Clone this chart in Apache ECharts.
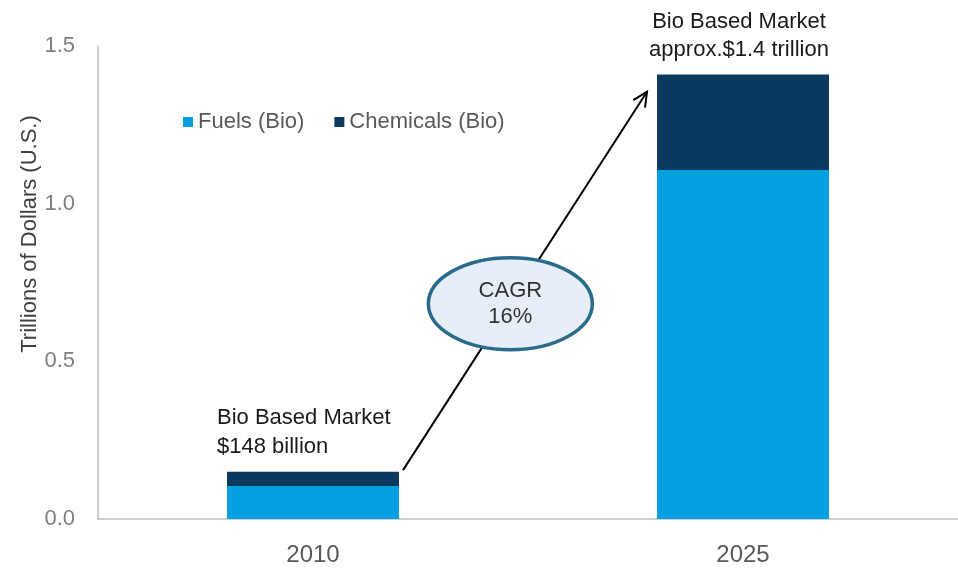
<!DOCTYPE html>
<html>
<head>
<meta charset="utf-8">
<script src="https://cdn.jsdelivr.net/npm/echarts@6/dist/echarts.min.js"></script>
<style>html,body{margin:0;padding:0;background:#fff;}#c{width:958px;height:569px;}</style>
</head>
<body>
<div id="c"></div>
<script>
const categories = ['2010', '2025'];
const fuels = [0.105, 1.107];
const chemicals = [0.045, 0.303];
const yTicks = [0, 0.5, 1.0, 1.5];
const yAxisTitle = 'Trillions of Dollars (U.S.)';
const annotations = ['Bio Based Market\n$148 billion', 'Bio Based Market\napprox.$1.4 trillion'];
const cagrText = 'CAGR\n16%';
const arrowFrom = [0, 0.155];
const arrowTo = [1, 1.355];

const FONT = '"Liberation Sans", Arial, sans-serif';
const chart = echarts.init(document.getElementById('c'));
const option = {
  animation: false,
  backgroundColor: '#ffffff',
  grid: { left: 98, top: 46, bottom: 50, width: 864 },
  legend: {
    left: 178, top: 106, itemWidth: 10, itemHeight: 10, itemGap: 30,
    icon: 'rect',
    textStyle: { fontFamily: FONT, fontSize: 22, color: '#595959' },
    data: ['Fuels (Bio)', 'Chemicals (Bio)']
  },
  xAxis: {
    type: 'category', data: categories,
    axisLine: { lineStyle: { color: '#BFBFBF', width: 1.5 } },
    axisTick: { show: false },
    axisLabel: { fontFamily: FONT, fontSize: 24, color: '#595959', margin: 24 }
  },
  yAxis: {
    type: 'value', min: 0, max: 1.5, interval: 0.5,
    axisLine: { show: true, lineStyle: { color: '#BFBFBF', width: 1.5 } },
    axisTick: { show: false },
    splitLine: { show: false },
    axisLabel: { fontFamily: FONT, fontSize: 22, color: '#7F7F7F', margin: 23,
      formatter: v => yTicks.includes(v) ? v.toFixed(1) : '' }
  },
  series: [
    { name: 'Fuels (Bio)', type: 'bar', stack: 't', data: fuels, barWidth: 172,
      itemStyle: { color: '#039FDE' } },
    { name: 'Chemicals (Bio)', type: 'bar', stack: 't', data: chemicals, barWidth: 172,
      itemStyle: { color: '#0B3A5E' } }
  ]
};
chart.setOption(option);

function px(p) { return chart.convertToPixel({ gridIndex: 0 }, p); }
const c0 = px([0, 0]);
const c1 = px([1, 0]);
const half = 86;
const tot0 = px([0, fuels[0] + chemicals[0]]);
const tot1 = px([1, fuels[1] + chemicals[1]]);
const s = px(arrowFrom); s[0] += half + 4;
const e = px(arrowTo); e[0] -= half + 10;
const ang = Math.atan2(e[1] - s[1], e[0] - s[0]);
const hl = 16, ha = 0.45;
const h1 = [e[0] - hl * Math.cos(ang - ha), e[1] - hl * Math.sin(ang - ha)];
const h2 = [e[0] - hl * Math.cos(ang + ha), e[1] - hl * Math.sin(ang + ha)];
const t = 0.44;
const ec = [s[0] + (e[0] - s[0]) * t, s[1] + (e[1] - s[1]) * t];

chart.setOption({
  graphic: [
    { type: 'text', x: 30, y: 234, rotation: Math.PI / 2, z: 12,
      style: { text: yAxisTitle, font: '22px ' + FONT, fill: '#404040', align: 'center',
        verticalAlign: 'middle' } },
    { type: 'line', shape: { x1: s[0], y1: s[1], x2: e[0], y2: e[1] },
      style: { stroke: '#000', lineWidth: 2 }, z: 10 },
    { type: 'polyline', shape: { points: [h1, e, h2] },
      style: { stroke: '#000', lineWidth: 2, fill: null }, z: 10 },
    { type: 'ellipse', shape: { cx: ec[0], cy: ec[1], rx: 82, ry: 46 },
      style: { fill: '#E6EEF8', stroke: '#2A6A8A', lineWidth: 3.5 }, z: 11 },
    { type: 'text', x: ec[0], y: ec[1], z: 12,
      style: { text: cagrText, font: '22px ' + FONT, fill: '#333', align: 'center',
        verticalAlign: 'middle', lineHeight: 26 } },
    { type: 'text', x: c0[0] - half - 10, y: tot0[1] - 10, z: 12,
      style: { text: annotations[0], font: '22px ' + FONT, fill: '#1a1a1a', align: 'left',
        verticalAlign: 'bottom', lineHeight: 29 } },
    { type: 'text', x: c1[0] - 4, y: tot1[1] - 10, z: 12,
      style: { text: annotations[1], font: '22px ' + FONT, fill: '#1a1a1a', align: 'center',
        verticalAlign: 'bottom', lineHeight: 28 } }
  ]
});
</script>
</body>
</html>
